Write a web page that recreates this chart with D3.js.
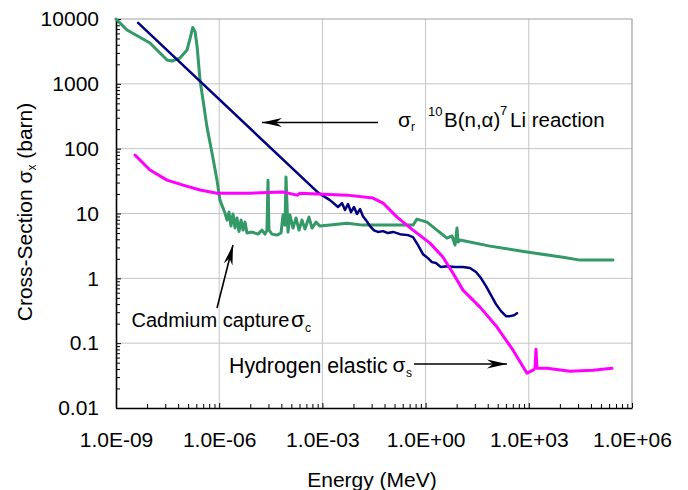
<!DOCTYPE html>
<meta charset="utf-8">
<script src="https://d3js.org/d3.v7.min.js"></script>
<style>
  body { margin: 0; background: #fff; }
  text { font-family: "Liberation Sans", Arial, sans-serif; fill: #000; }
</style>
<div id="my_dataviz"></div>
<script>

// ---- data ----
var xTickLabels = ["1.0E-09", "1.0E-06", "1.0E-03", "1.0E+00", "1.0E+03", "1.0E+06"];
var xMajor = [1e-9, 1e-6, 1e-3, 1, 1e3, 1e6];
var yTickLabels = ["0.01", "0.1", "1", "10", "100", "1000", "10000"];
var yMajor = [0.01, 0.1, 1, 10, 100, 1000, 10000];

// boron-10 (n,alpha) - navy
var boronE = [4.4e-9, 7.5e-4, 1.66e-3, 2.84e-3, 3.72e-3, 4.54e-3, 5.55e-3, 6.78e-3, 8.3e-3,
  1.01e-2, 1.24e-2, 1.51e-2, 1.85e-2, 2.42e-2, 3.16e-2, 4.13e-2, 5.78e-2, 8.07e-2, 0.113,
  0.18, 0.308, 0.431, 0.601, 0.839, 1.17, 1.53, 2.0, 2.8, 4.19,
  7.16, 12.2, 19.5, 29.2, 40.7, 57, 79.6, 111, 156, 217, 284, 371, 454];
var boronXS = [8700, 21, 16.1, 12.6, 14.5, 11.3, 14.0, 10.5, 12.6,
  9.8, 11.7, 9.1, 7.9, 6.4, 5.5, 5.2, 5.35, 4.99, 5.2,
  4.8, 4.64, 4.32, 3.25, 2.36, 2.05, 1.78, 1.72, 1.49, 1.54,
  1.49, 1.49, 1.44, 1.25, 1.01, 0.758, 0.551, 0.4, 0.312, 0.261, 0.261, 0.27, 0.29];

// cadmium capture - green
var cadmiumE = [1e-9, 2.09e-9, 9.72e-9, 3.04e-8, 4.25e-8, 7.24e-8, 1.16e-7, 1.45e-7, 1.7e-7, 2.0e-7, 2.3e-7, 2.77e-7,
  3.38e-7, 4.42e-7, 6.18e-7, 8.63e-7, 1.05e-6, 1.48e-6, 1.69e-6, 1.93e-6, 2.2e-6, 2.52e-6,
  2.88e-6, 3.29e-6, 3.77e-6, 4.31e-6, 4.92e-6, 5.62e-6, 6.43e-6, 8.98e-6, 1.34e-5, 1.75e-5,
  2.14e-5, 2.45e-5, 2.62e-5, 2.8e-5, 3.43e-5, 4.79e-5, 6.27e-5, 7.16e-5, 8.19e-5, 8.75e-5,
  1e-4, 1.14e-4, 1.4e-4, 1.71e-4, 2.09e-4, 2.55e-4, 3.12e-4, 4.07e-4, 4.99e-4, 6.52e-4,
  8.51e-4, 1.66e-3, 5.19e-3, 1.51e-2, 9.23e-2, 0.431, 0.562, 1.1, 2.14, 4.19,
  5.85, 7.16, 8.18, 8.75, 10, 74.5, 887, 9860, 3.08e4, 2.8e5];
var cadmiumXS = [10000, 6760, 4265, 2328, 2249, 2500, 3325, 5200, 7400, 6300, 3600, 1145,
  562, 215, 85.5, 32.7, 16.1, 10.1, 7.9, 10.5, 6.4, 9.8,
  5.96, 8.55, 5.27, 7.9, 5.55, 7.36, 4.99, 5.17, 4.81, 5.55,
  4.81, 5.55, 32.7, 5.55, 4.81, 4.64, 5.0, 9.45, 6.62, 36.5,
  5.17, 9.45, 5.96, 8.55, 5.55, 7.9, 5.75, 8.8, 5.96, 7.36,
  6.4, 6.62, 7.1, 6.62, 6.62, 6.62, 8.2, 7.36, 5.55, 4.17,
  4.5, 3.25, 5.96, 3.62, 3.89, 3.14, 2.54, 2.12, 1.91, 1.91];

// hydrogen elastic - magenta
var hydrogenE = [3.56e-9, 9.72e-9, 3.04e-8, 8.87e-8, 2.77e-7, 8.63e-7, 7.85e-6, 7.16e-5, 1.83e-4, 2.23e-4,
  5.19e-3, 2.96e-2, 5.78e-2, 0.148, 0.431, 1.34, 3.21, 6.27, 12.2, 38.1,
  119, 348, 887, 1325, 1514, 1618, 1730, 3380, 1.58e4, 7.35e4, 2.62e5];
var hydrogenXS = [79.7, 46.8, 32.7, 27.4, 23.0, 20.6, 20.6, 21.4, 19.2, 20.6,
  19.2, 17.3, 14.5, 8.8, 5.55, 3.49, 2.12, 1.2, 0.658, 0.36,
  0.177, 0.078, 0.0344, 0.0383, 0.0411, 0.0807, 0.0411, 0.0411, 0.037, 0.0383, 0.0411];

var margin = {top: 19, right: 56, bottom: 82, left: 116},
    width = 688 - margin.left - margin.right,
    height = 490 - margin.top - margin.bottom;

var root = d3.select("#my_dataviz")
  .append("svg")
    .attr("width", 688)
    .attr("height", 490);

var svg = root.append("g")
    .attr("transform", "translate(" + margin.left + "," + margin.top + ")");

var x = d3.scaleLog().domain([1e-9, 1e6]).range([0, width]);
var y = d3.scaleLog().domain([0.01, 10000]).range([height, 0]);

// gridlines
svg.append("g").selectAll("line")
  .data(yMajor.slice(1, -1))
  .enter().append("line")
    .attr("x1", 0).attr("x2", width)
    .attr("y1", function(d) { return y(d); })
    .attr("y2", function(d) { return y(d); })
    .attr("stroke", "#c4c4c4").attr("stroke-width", 1);
svg.append("g").selectAll("line")
  .data(xMajor.slice(1, -1))
  .enter().append("line")
    .attr("y1", 0).attr("y2", height)
    .attr("x1", function(d) { return x(d); })
    .attr("x2", function(d) { return x(d); })
    .attr("stroke", "#c4c4c4").attr("stroke-width", 1);

// plot border top / right
svg.append("path")
  .attr("d", "M0,0H" + width + "V" + height)
  .attr("fill", "none").attr("stroke", "#a0a0a0").attr("stroke-width", 1.2);

// minor tick values
var xMinor = [];
xMajor.slice(0, -1).forEach(function(m) {
  for (var k = 2; k <= 9; k++) xMinor.push(m * k * k * k);
});
var yMinor = [];
yMajor.slice(0, -1).forEach(function(m) {
  for (var k = 2; k <= 9; k++) yMinor.push(m * k);
});

// axes
var xAxis = svg.append("g")
  .attr("transform", "translate(0," + height + ")")
  .call(d3.axisBottom(x).tickValues(xMajor).tickSize(-5).tickSizeOuter(0).tickPadding(24)
    .tickFormat(function(d, i) { return xTickLabels[i]; }));
svg.append("g")
  .attr("transform", "translate(0," + height + ")")
  .call(d3.axisBottom(x).tickValues(xMinor).tickSize(-4).tickSizeOuter(0).tickFormat(""))
  .select(".domain").remove();

var yAxis = svg.append("g")
  .call(d3.axisLeft(y).tickValues(yMajor).tickSize(-5).tickSizeOuter(0).tickPadding(17)
    .tickFormat(function(d, i) { return yTickLabels[i]; }));
svg.append("g")
  .call(d3.axisLeft(y).tickValues(yMinor).tickSize(-4).tickSizeOuter(0).tickFormat(""))
  .select(".domain").remove();

[xAxis, yAxis].forEach(function(a) {
  a.attr("font-size", null).attr("font-family", null);
  a.select(".domain").attr("stroke", "#000").attr("stroke-width", 1.6);
  a.selectAll("text").style("font-size", "21px");
});

// series
var line = d3.line()
  .x(function(d) { return x(d[0]); })
  .y(function(d) { return y(d[1]); });

var series = [
  {E: cadmiumE, XS: cadmiumXS, color: "#339966", w: 3},
  {E: boronE, XS: boronXS, color: "#000080", w: 2.5},
  {E: hydrogenE, XS: hydrogenXS, color: "#ff00ff", w: 3}
];
series.forEach(function(s) {
  svg.append("path")
    .datum(d3.zip(s.E, s.XS))
    .attr("fill", "none")
    .attr("stroke", s.color)
    .attr("stroke-width", s.w)
    .attr("stroke-linejoin", "round")
    .attr("stroke-linecap", "round")
    .attr("d", line);
});

// axis titles
root.append("text")
  .attr("x", 372).attr("y", 487)
  .attr("text-anchor", "middle")
  .style("font-size", "21px")
  .text("Energy (MeV)");

var yt = root.append("text")
  .attr("transform", "translate(32,212) rotate(-90)")
  .attr("text-anchor", "middle")
  .style("font-size", "21px");
yt.append("tspan").text("Cross-Section σ");
yt.append("tspan").attr("dy", 4).style("font-size", "12px").text("x");
yt.append("tspan").attr("dy", -4).text(" (barn)");

// arrows
root.append("defs").append("marker")
  .attr("id", "head")
  .attr("viewBox", "-20 -5 20 10")
  .attr("refX", 0).attr("refY", 0)
  .attr("markerWidth", 20).attr("markerHeight", 10)
  .attr("markerUnits", "userSpaceOnUse")
  .attr("orient", "auto")
  .append("path")
    .attr("d", "M0,0L-20,-4.5L-14,0L-20,4.5Z")
    .attr("fill", "#000");

function arrow(x1, y1, x2, y2) {
  root.append("line")
    .attr("x1", x1).attr("y1", y1).attr("x2", x2).attr("y2", y2)
    .attr("stroke", "#000").attr("stroke-width", 1.6)
    .attr("marker-end", "url(#head)");
}
arrow(378, 122.5, 262, 122.5);
arrow(217, 308, 233, 245);
arrow(414, 364, 507, 364);

// annotation labels
function label(x0, y0, size, txt) {
  root.append("text").attr("x", x0).attr("y", y0)
    .style("font-size", size + "px").text(txt);
}
label(398, 127, 21, "σ");
label(411, 131, 12, "r");
label(428, 116, 13, "10");
label(444, 127, 20.5, "B(n,α)");
label(500, 115, 13, "7");
label(510, 127, 20.5, "Li reaction");

label(131.5, 327, 20, "Cadmium capture");
label(291, 327, 22, "σ");
label(305, 332, 12, "c");

label(229, 373, 21.3, "Hydrogen elastic");
label(392.5, 372, 21, "σ");
label(406, 377, 12, "s");

</script>
